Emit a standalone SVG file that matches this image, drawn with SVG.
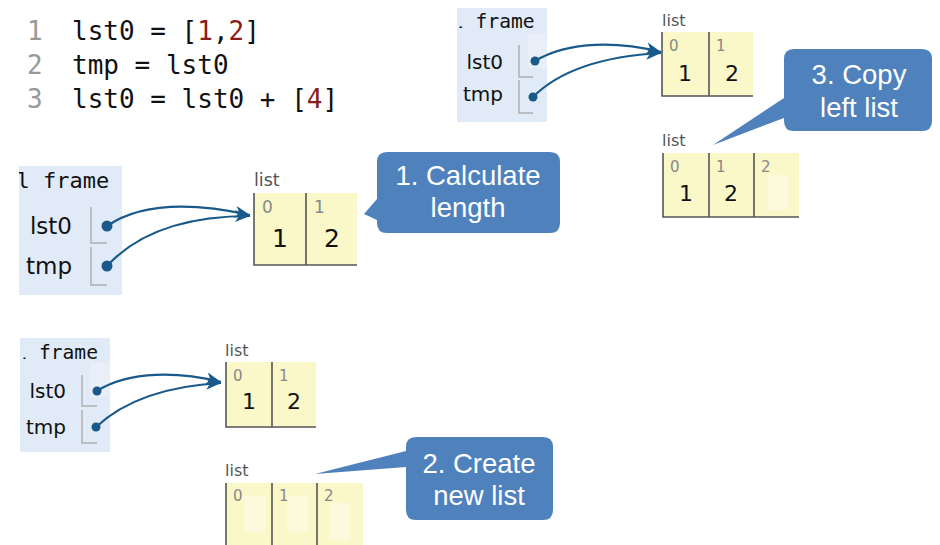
<svg xmlns="http://www.w3.org/2000/svg" width="940" height="545" viewBox="0 0 940 545">
<style>
.code{font-family:"DejaVu Sans Mono",monospace;font-size:26px;fill:#111}
.ln{fill:#999}
.num{fill:#8b1c1c}
.fr{fill:#e0ebf7}
.frt{font-family:"DejaVu Sans Mono",monospace;fill:#111}
.lab{font-family:"DejaVu Sans",sans-serif;fill:#111;text-anchor:end}
.lh{fill:none;stroke:#b0b0b0;stroke-width:1.5}
.lite{fill:#e8eff8}
.dot{fill:#1a5a8a}
.cell{fill:#faf7c9}
.inner{fill:#fcfadc}
.bd{stroke:#555;stroke-width:1.6;fill:none}
.ltag{font-family:"DejaVu Sans",sans-serif;fill:#555}
.idx{font-family:"DejaVu Sans",sans-serif;fill:#888}
.val{font-family:"DejaVu Sans",sans-serif;fill:#111;text-anchor:middle}
.con{fill:none;stroke:#1a5a8a;stroke-width:2.2}
.co{fill:#4f81bd}
.cot{font-family:"Liberation Sans",Arial,sans-serif;font-size:27.5px;fill:#fff;text-anchor:middle}
</style>
<defs>
<marker id="ah" markerUnits="userSpaceOnUse" markerWidth="16" markerHeight="14" refX="15" refY="7" orient="auto">
<path d="M0,1 L15,7 L0,13 L4,7 Z" fill="#1a5a8a"/>
</marker>
<clipPath id="c1"><rect x="459.5" y="8" width="88" height="114"/></clipPath>
<clipPath id="c2"><rect x="19" y="166" width="103" height="129"/></clipPath>
<clipPath id="c3"><rect x="23.5" y="338" width="87" height="114"/></clipPath>
</defs>

<g id="code">
<text class="code" x="27" y="40"><tspan class="ln">1</tspan><tspan x="72">lst0 = [</tspan><tspan class="num">1</tspan>,<tspan class="num">2</tspan>]</text>
<text class="code" x="27" y="74"><tspan class="ln">2</tspan><tspan x="72">tmp = lst0</tspan></text>
<text class="code" x="27" y="108"><tspan class="ln">3</tspan><tspan x="72">lst0 = lst0 + [</tspan><tspan class="num">4</tspan>]</text>
</g>

<!-- Top snapshot -->
<g id="frame-top">
<rect class="fr" x="457" y="8" width="90" height="114"/>
<rect class="lite" x="528" y="33" width="19" height="35"/>
<text class="frt" x="452" y="28" font-size="19.6" clip-path="url(#c1)">l frame</text>
<text class="lab" x="503" y="69" font-size="20">lst0</text>
<text class="lab" x="503" y="101" font-size="20">tmp</text>
<path class="lh" d="M519,45 V77 H533 M519,80 V113 H533"/>
<circle class="dot" cx="535" cy="61" r="4.5"/>
<circle class="dot" cx="533" cy="97" r="4.5"/>
</g>
<g id="list-top">
<text class="ltag" x="662" y="26" font-size="16">list</text>
<rect class="cell" x="662" y="32" width="91" height="64"/>
<path class="bd" d="M662,32 V96 H753 M709,32 V96"/>
<text class="idx" x="669" y="51" font-size="15">0</text>
<text class="idx" x="716" y="51" font-size="15">1</text>
<text class="val" x="685" y="81" font-size="22">1</text>
<text class="val" x="732" y="81" font-size="22">2</text>
</g>
<g id="list-copy">
<text class="ltag" x="662" y="146" font-size="16">list</text>
<rect class="cell" x="663" y="153" width="136" height="64"/>
<rect class="inner" x="768" y="175" width="20" height="35"/>
<path class="bd" d="M663,153 V217 H799 M709,153 V217 M754,153 V217"/>
<text class="idx" x="670" y="172" font-size="15">0</text>
<text class="idx" x="716" y="172" font-size="15">1</text>
<text class="idx" x="761" y="172" font-size="15">2</text>
<text class="val" x="686" y="201" font-size="22">1</text>
<text class="val" x="731" y="201" font-size="22">2</text>
</g>

<!-- Middle snapshot -->
<g id="frame-mid">
<rect class="fr" x="19" y="166" width="103" height="129"/>
<text class="frt" x="16.5" y="188" font-size="22" clip-path="url(#c2)">l frame</text>
<text class="lab" x="72" y="234" font-size="23">lst0</text>
<text class="lab" x="72" y="274" font-size="23">tmp</text>
<path class="lh" d="M91,207 V243 H107 M91,247 V285 H107"/>
<circle class="dot" cx="107" cy="226" r="5.5"/>
<circle class="dot" cx="107" cy="266" r="5.5"/>
</g>
<g id="list-mid">
<text class="ltag" x="254" y="186" font-size="17.5">list</text>
<rect class="cell" x="254" y="193" width="103" height="72"/>
<path class="bd" d="M254,193 V265 H357 M306,193 V265"/>
<text class="idx" x="262" y="213" font-size="17">0</text>
<text class="idx" x="314" y="213" font-size="17">1</text>
<text class="val" x="280" y="247" font-size="25">1</text>
<text class="val" x="332" y="247" font-size="25">2</text>
</g>

<!-- Bottom snapshot -->
<g id="frame-bot">
<rect class="fr" x="20" y="338" width="90" height="114"/>
<rect class="lite" x="90" y="363" width="20" height="34"/>
<text class="frt" x="15.4" y="359" font-size="19.6" clip-path="url(#c3)">l frame</text>
<text class="lab" x="66" y="398" font-size="20">lst0</text>
<text class="lab" x="66" y="434" font-size="20">tmp</text>
<path class="lh" d="M82,375 V406 H97 M82,410 V443 H97"/>
<circle class="dot" cx="97" cy="391" r="4.5"/>
<circle class="dot" cx="96" cy="427" r="4.5"/>
</g>
<g id="list-bot">
<text class="ltag" x="225" y="356" font-size="16">list</text>
<rect class="cell" x="226" y="362" width="90" height="65"/>
<path class="bd" d="M226,362 V427 H316 M272,362 V427"/>
<text class="idx" x="233" y="381" font-size="15">0</text>
<text class="idx" x="279" y="381" font-size="15">1</text>
<text class="val" x="249" y="409" font-size="22">1</text>
<text class="val" x="294" y="409" font-size="22">2</text>
</g>
<g id="list-new">
<text class="ltag" x="225" y="476" font-size="16">list</text>
<rect class="cell" x="226" y="483" width="137" height="62"/>
<rect class="inner" x="244" y="496" width="22" height="36"/>
<rect class="inner" x="287" y="496" width="21" height="36"/>
<rect class="inner" x="329" y="503" width="21" height="37"/>
<path class="bd" d="M226,483 V545 M272,483 V545 M317,483 V545"/>
<text class="idx" x="233" y="501" font-size="15">0</text>
<text class="idx" x="279" y="501" font-size="15">1</text>
<text class="idx" x="324" y="501" font-size="15">2</text>
</g>

<!-- Connectors -->
<g id="connectors">
<path class="con" marker-end="url(#ah)" d="M535,61 C570,40 620,42 661,52"/>
<path class="con" marker-end="url(#ah)" d="M533,97 C560,70 605,56 661,53"/>
<path class="con" marker-end="url(#ah)" d="M107,226 C145,200 200,204 250,215"/>
<path class="con" marker-end="url(#ah)" d="M107,266 C140,230 190,216 250,216"/>
<path class="con" marker-end="url(#ah)" d="M97,391 C130,370 180,372 221,382"/>
<path class="con" marker-end="url(#ah)" d="M96,427 C125,400 165,386 221,383"/>
</g>

<!-- Callouts -->
<g id="callout-1">
<path class="co" d="M387,152 H550 Q560,152 560,162 V223 Q560,233 550,233 H387 Q377,233 377,223 V220 L364,214 L377,199 V162 Q377,152 387,152 Z"/>
<text class="cot" x="468" y="185">1. Calculate</text>
<text class="cot" x="468" y="217">length</text>
</g>
<g id="callout-2">
<path class="co" d="M416,437 H543 Q553,437 553,447 V510 Q553,520 543,520 H416 Q406,520 406,510 V467 L315,474 L406,451 V447 Q406,437 416,437 Z"/>
<text class="cot" x="479" y="473">2. Create</text>
<text class="cot" x="479" y="505">new list</text>
</g>
<g id="callout-3">
<path class="co" d="M794,49 H922 Q932,49 932,59 V121 Q932,131 922,131 H794 Q784,131 784,121 V118 L713,145 L784,98 V59 Q784,49 794,49 Z"/>
<text class="cot" x="859" y="84">3. Copy</text>
<text class="cot" x="859" y="117">left list</text>
</g>
</svg>
